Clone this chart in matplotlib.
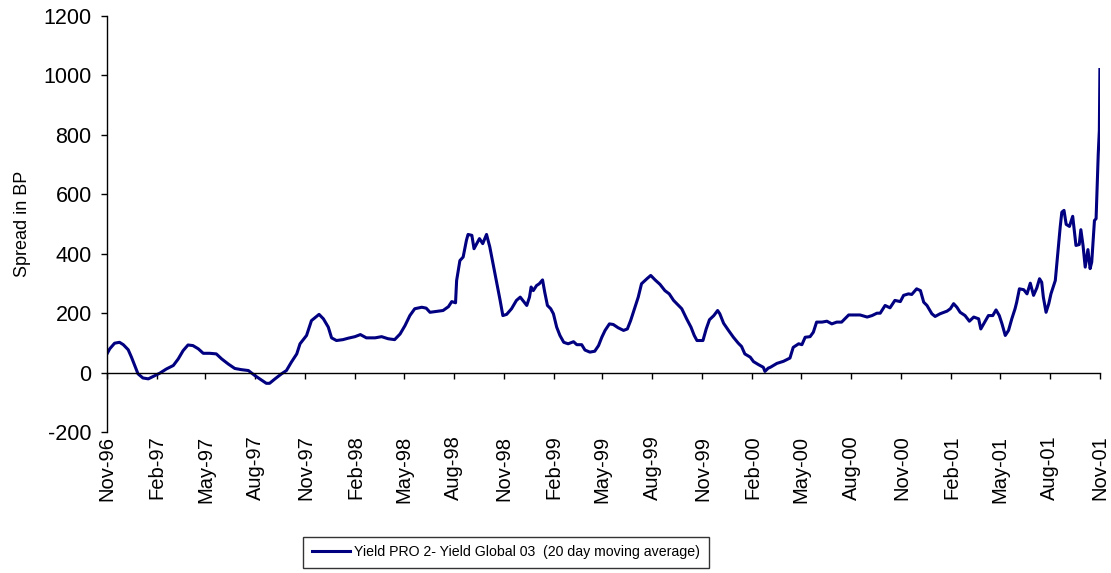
import matplotlib
matplotlib.use("Agg")
import matplotlib.pyplot as plt
import matplotlib.dates as mdates
import pandas as pd

# 20 day moving average of the spread
dates = [
    "1996-11-01", "1996-11-06", "1996-11-15", "1996-11-24", "1996-12-01", "1996-12-10",
    "1996-12-16", "1996-12-22", "1996-12-28", "1997-01-06", "1997-01-16", "1997-01-25",
    "1997-02-06", "1997-02-18", "1997-03-03", "1997-03-12", "1997-03-21", "1997-03-30",
    "1997-04-08", "1997-04-18", "1997-04-27", "1997-05-09", "1997-05-21", "1997-05-31",
    "1997-06-12", "1997-06-24", "1997-07-06", "1997-07-19", "1997-07-31", "1997-08-09",
    "1997-08-21", "1997-08-27", "1997-09-06", "1997-09-18", "1997-09-27", "1997-10-06",
    "1997-10-16", "1997-10-22", "1997-11-03", "1997-11-12", "1997-11-26", "1997-12-04",
    "1997-12-13", "1997-12-19", "1997-12-28", "1998-01-09", "1998-01-19", "1998-01-31",
    "1998-02-10", "1998-02-21", "1998-03-09", "1998-03-21", "1998-04-02", "1998-04-14",
    "1998-04-24", "1998-05-03", "1998-05-12", "1998-05-21", "1998-06-03", "1998-06-11",
    "1998-06-18", "1998-06-30", "1998-07-12", "1998-07-22", "1998-07-28", "1998-08-04",
    "1998-08-06", "1998-08-12", "1998-08-18", "1998-08-24", "1998-08-27", "1998-09-03",
    "1998-09-07", "1998-09-17", "1998-09-23", "1998-09-30", "1998-10-06", "1998-10-12",
    "1998-10-19", "1998-10-25", "1998-10-30", "1998-11-06", "1998-11-15", "1998-11-24",
    "1998-12-01", "1998-12-07", "1998-12-13", "1998-12-18", "1998-12-21", "1998-12-25",
    "1998-12-31", "1999-01-05", "1999-01-11", "1999-01-15", "1999-01-20", "1999-01-26",
    "1999-01-31", "1999-02-06", "1999-02-12", "1999-02-19", "1999-02-27", "1999-03-09",
    "1999-03-15", "1999-03-24", "1999-03-30", "1999-04-08", "1999-04-17", "1999-04-24",
    "1999-04-30", "1999-05-06", "1999-05-14", "1999-05-21", "1999-05-30", "1999-06-09",
    "1999-06-16", "1999-06-22", "1999-06-30", "1999-07-06", "1999-07-12", "1999-07-22",
    "1999-07-29", "1999-08-06", "1999-08-15", "1999-08-24", "1999-09-01", "1999-09-09",
    "1999-09-18", "1999-09-24", "1999-10-03", "1999-10-11", "1999-10-17", "1999-10-22",
    "1999-11-02", "1999-11-08", "1999-11-14", "1999-11-22", "1999-11-29", "1999-12-03",
    "1999-12-10", "1999-12-19", "1999-12-28", "2000-01-06", "2000-01-12", "2000-01-18",
    "2000-01-28", "2000-02-03", "2000-02-12", "2000-02-21", "2000-02-24", "2000-03-01",
    "2000-03-05", "2000-03-17", "2000-03-29", "2000-04-10", "2000-04-16", "2000-04-26",
    "2000-05-02", "2000-05-08", "2000-05-17", "2000-05-23", "2000-05-29", "2000-06-08",
    "2000-06-17", "2000-06-26", "2000-07-05", "2000-07-14", "2000-07-27", "2000-08-08",
    "2000-08-17", "2000-08-30", "2000-09-08", "2000-09-17", "2000-09-23", "2000-10-02",
    "2000-10-11", "2000-10-20", "2000-10-30", "2000-11-05", "2000-11-14", "2000-11-20",
    "2000-11-29", "2000-12-06", "2000-12-12", "2000-12-18", "2000-12-27", "2001-01-02",
    "2001-01-11", "2001-01-24", "2001-01-30", "2001-02-05", "2001-02-11", "2001-02-17",
    "2001-02-26", "2001-03-06", "2001-03-14", "2001-03-23", "2001-03-27", "2001-04-02",
    "2001-04-10", "2001-04-18", "2001-04-24", "2001-04-30", "2001-05-05", "2001-05-11",
    "2001-05-17", "2001-05-23", "2001-05-29", "2001-06-01", "2001-06-06", "2001-06-14",
    "2001-06-20", "2001-06-26", "2001-07-02", "2001-07-08", "2001-07-13", "2001-07-17",
    "2001-07-20", "2001-07-25", "2001-07-30", "2001-08-03", "2001-08-11", "2001-08-15",
    "2001-08-20", "2001-08-23", "2001-08-27", "2001-08-31", "2001-09-06", "2001-09-12",
    "2001-09-18", "2001-09-24", "2001-09-27", "2001-10-01", "2001-10-05", "2001-10-10",
    "2001-10-14", "2001-10-17", "2001-10-22", "2001-10-25", "2001-10-29", "2001-10-31",
    "2001-11-01",
]
spread = [
    63, 80, 99, 102, 94, 77,
    52, 24, -4, -18, -21, -13,
    -2, 12, 24, 46, 74, 93,
    91, 80, 65, 65, 63, 46,
    29, 14, 10, 7, -10, -21,
    -36, -36, -21, -4, 7, 35,
    63, 97, 125, 175, 196, 181,
    153, 117, 108, 111, 116, 121,
    128, 117, 117, 121, 114, 111,
    130, 158, 192, 215, 220, 217,
    203, 206, 209, 222, 239, 235,
    310, 377, 389, 445, 465, 462,
    417, 451, 434, 465, 423, 366,
    299, 243, 192, 196, 215, 243,
    254, 240, 226, 254, 288, 276,
    293, 299, 312, 271, 226, 215,
    198, 153, 125, 102, 97, 104,
    94, 94, 76, 69, 72, 91,
    119, 142, 164, 162, 151, 142,
    147, 175, 220, 254, 299, 316,
    327, 312, 297, 276, 265, 243,
    226, 215, 181, 153, 125, 108,
    108, 147, 178, 192, 209, 198,
    166, 142, 119, 99, 88, 63,
    52, 37, 27, 18, 4, 15,
    18, 31, 38, 49, 85, 97,
    94, 119, 121, 136, 170, 170,
    173, 164, 170, 170, 194, 194,
    194, 187, 192, 200, 200, 226,
    218, 243, 239, 260, 265, 263,
    282, 276, 237, 226, 198, 189,
    198, 207, 215, 232, 220, 203,
    192, 173, 187, 181, 147, 166,
    192, 192, 211, 192, 164, 125,
    142, 181, 215, 237, 282, 279,
    265, 301, 260, 285, 316, 304,
    254, 203, 232, 265, 310, 389,
    490, 540, 546, 499, 492, 526,
    428, 431, 481, 428, 355, 414,
    350, 372, 512, 518, 737, 816,
    1020,
]

series_label = "Yield PRO 2- Yield Global 03  (20 day moving average)"
y_ticks = [-200, 0, 200, 400, 600, 800, 1000, 1200]

plt.rcParams["font.family"] = ["Liberation Sans", "DejaVu Sans"]
plt.rcParams["axes.unicode_minus"] = False

x = pd.to_datetime(dates)

fig = plt.figure(figsize=(11.11, 5.73), dpi=100)
ax = fig.add_axes([0.0963, 0.246, 0.8937, 0.726])

ax.plot(x, spread, color="#000080", lw=2.2, label=series_label)

ax.set_xlim(pd.Timestamp("1996-11-01"), pd.Timestamp("2001-11-01"))
ax.set_ylim(-200, 1200)
ax.set_yticks(y_ticks)

# category axis crosses at zero, labels sit under the plot area
ax.spines["bottom"].set_position(("data", 0))
ax.spines["top"].set_visible(False)
ax.spines["right"].set_visible(False)
for s in ("left", "bottom"):
    ax.spines[s].set_color("black")
    ax.spines[s].set_linewidth(1.0)

ax.xaxis.set_major_locator(mdates.MonthLocator(bymonth=[2, 5, 8, 11]))
ax.xaxis.set_major_formatter(mdates.DateFormatter("%b-%y"))
ax.tick_params(axis="x", direction="out", length=4.3, width=1, colors="black",
               labelsize=14.5, labelrotation=90, pad=41)
ax.tick_params(axis="y", direction="out", length=4, width=1, colors="black",
               labelsize=15.5, pad=7)

ax.set_ylabel("Spread in BP", fontsize=13, labelpad=9)

leg = fig.legend(loc="lower center", bbox_to_anchor=(0.4555, 0.009), fontsize=10.2,
                 frameon=True, fancybox=False, handlelength=2.7, borderpad=0.6,
                 handletextpad=0.3, borderaxespad=0)
leg.get_frame().set_edgecolor("black")
leg.get_frame().set_linewidth(1.0)

fig.savefig("out.png", dpi=100)
